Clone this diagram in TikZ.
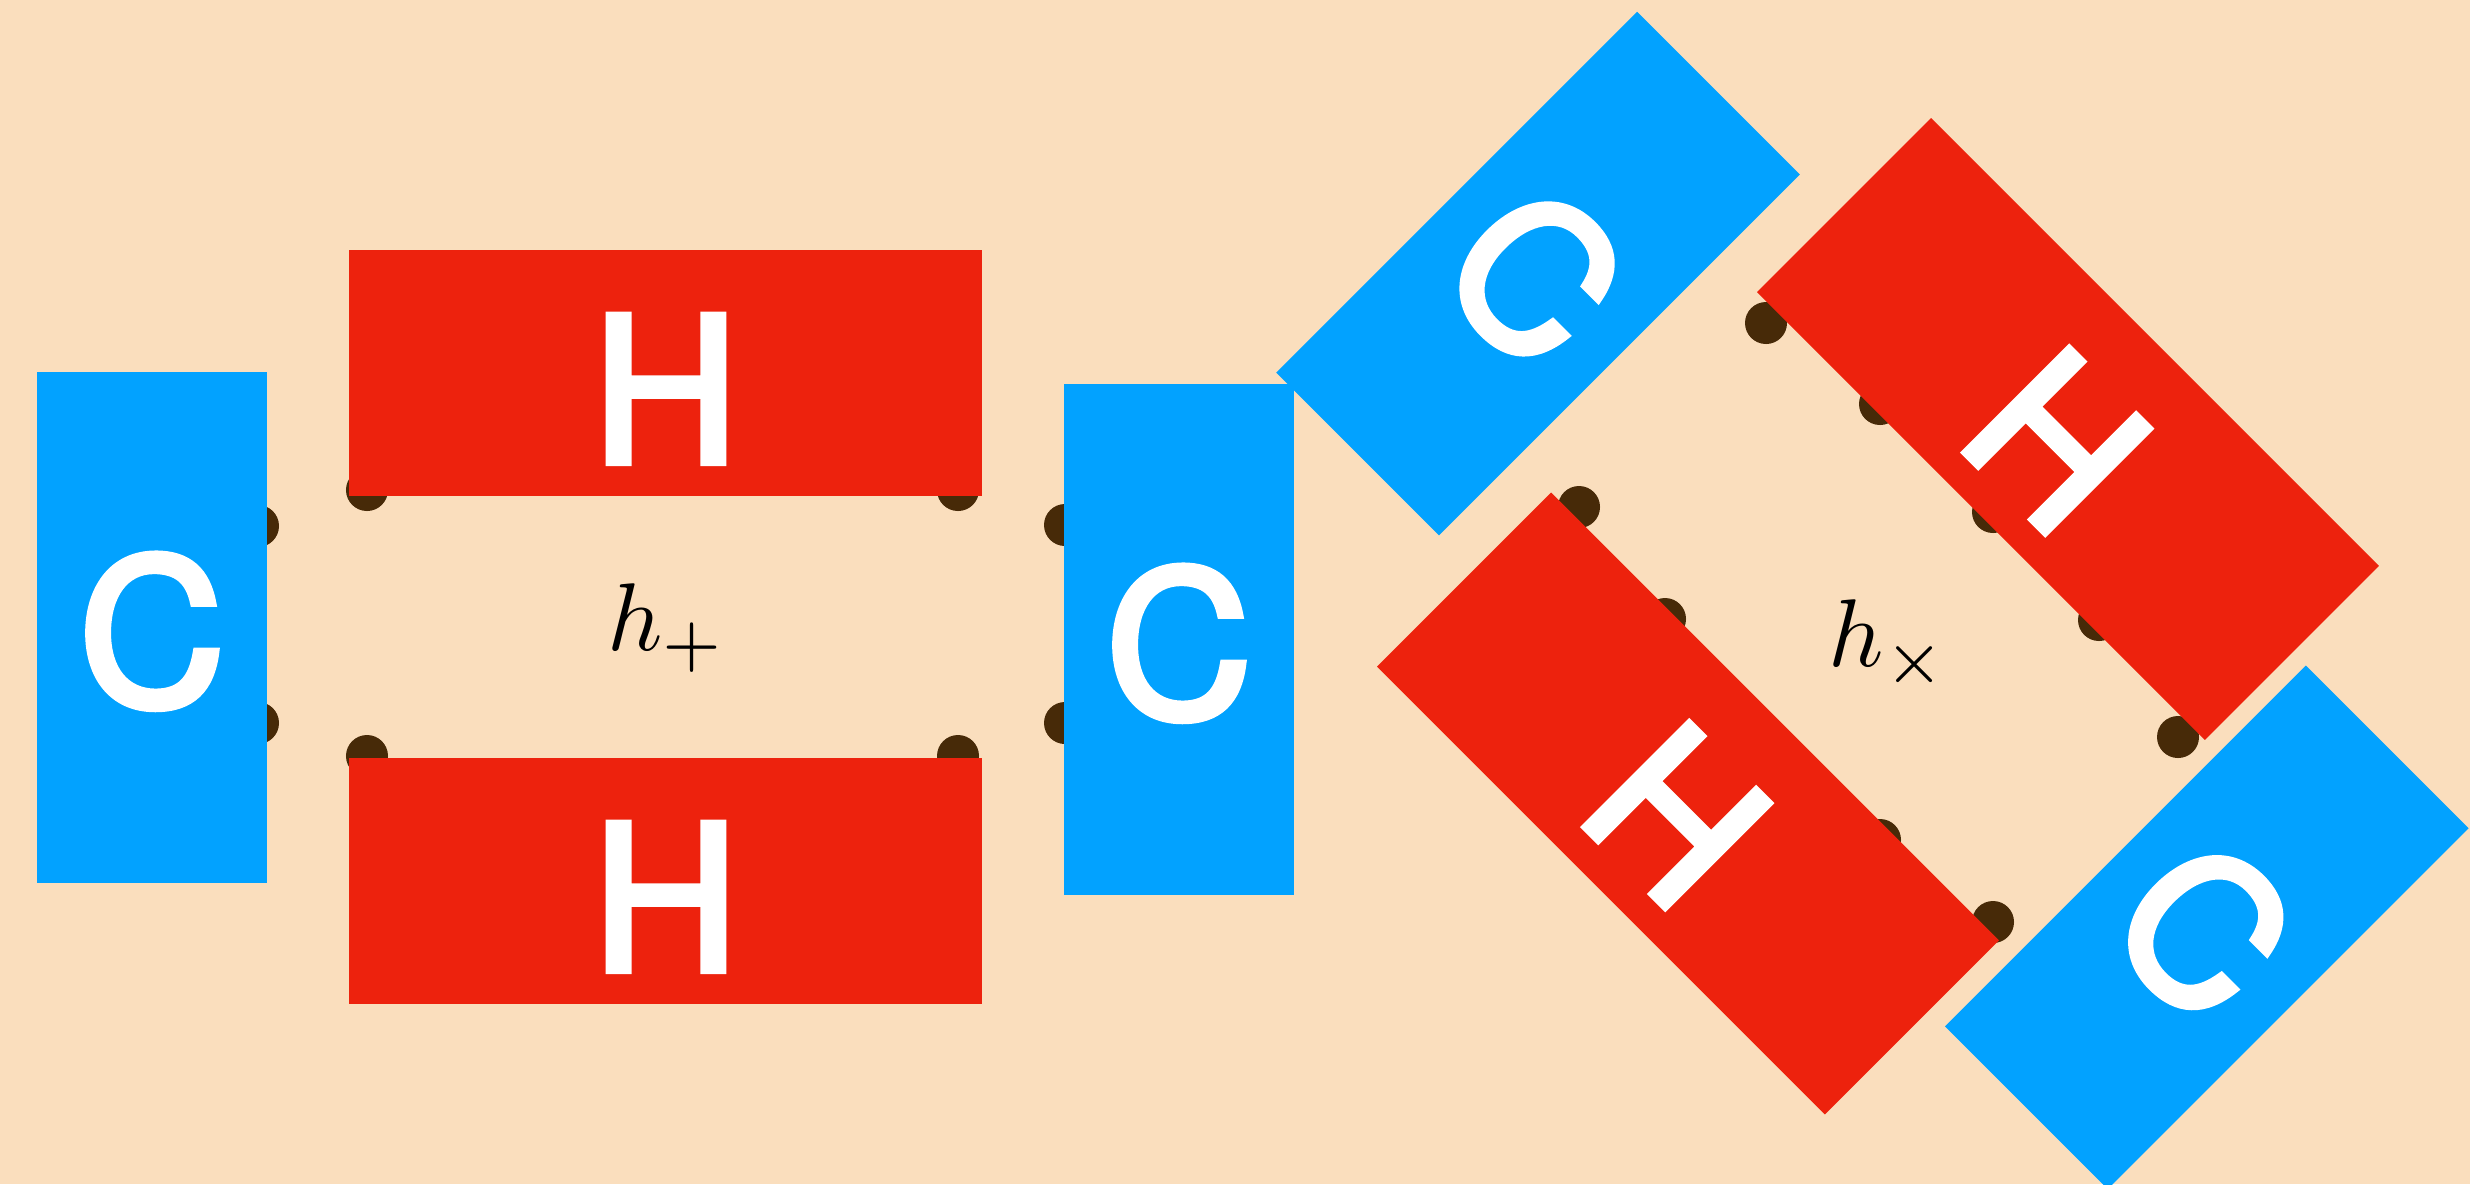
\documentclass[tikz,border=0pt]{standalone}
\usepackage{fontspec}
\newfontfamily\atomfont[FakeBold=3.5]{TeX Gyre Heros}
\definecolor{paper}{RGB}{250,222,189}
\definecolor{carbonblue}{RGB}{2,162,255}
\definecolor{hydrogenred}{RGB}{237,34,13}
\definecolor{dotbrown}{RGB}{71,42,8}
\tikzset{
  atom/.style={inner sep=0pt, text=white, font=\atomfont\fontsize{57.5}{60}\selectfont},
  carbonbox/.style={atom, fill=carbonblue, minimum width=2.30cm, minimum height=5.10cm,
    text height=1.55cm, text depth=0pt},
  hydrogenbox/.style={atom, fill=hydrogenred, minimum width=6.33cm, minimum height=2.46cm,
    text height=1.79cm, text depth=0pt},
  testmass/.style={circle, fill=dotbrown, inner sep=0pt, minimum size=0.42cm},
  strain/.style={inner sep=0pt, anchor=base},
}
\newcommand{\strainlabel}[1]{\scalebox{2.735}{$#1$}}
\begin{document}
\begin{tikzpicture}[x=0.01cm, y=-0.01cm]
  % canvas
  \path[use as bounding box, fill=paper] (0,0) rectangle (2470,1184);

  % plus polarisation: test masses
  \node[testmass] (p1) at (258,526) {};
  \node[testmass] (p2) at (258,723) {};
  \node[testmass] (p3) at (367,490) {};
  \node[testmass] (p4) at (958,490) {};
  \node[testmass] (p5) at (367,756) {};
  \node[testmass] (p6) at (958,756) {};
  \node[testmass] (p7) at (1065,525) {};
  \node[testmass] (p8) at (1065,723) {};

  % cross polarisation: test masses
  \node[testmass] (x1) at (1766,323) {};
  \node[testmass] (x2) at (1880,404) {};
  \node[testmass] (x3) at (1993,512) {};
  \node[testmass] (x4) at (2099,620) {};
  \node[testmass] (x5) at (2178,737) {};
  \node[testmass] (x6) at (1579,507) {};
  \node[testmass] (x7) at (1665,619) {};
  \node[testmass] (x8) at (1880,840) {};
  \node[testmass] (x9) at (1993,922) {};

  % plus polarisation: molecule
  \node[carbonbox]   (cL) at (152,627.5) {C};
  \node[hydrogenbox] (hT) at (665.5,373) {H};
  \node[hydrogenbox] (hB) at (665.5,881) {H};
  \node[carbonbox]   (cR) at (1179,639.5) {C};

  % cross polarisation: molecule turned by 45 degrees
  \node[carbonbox, rotate=-45]   (cUL) at (1538,273.6) {C};
  \node[hydrogenbox, rotate=-45] (hUR) at (2068,429) {H};
  \node[hydrogenbox, rotate=-45] (hLL) at (1688,803.5) {H};
  \node[carbonbox, rotate=-45]   (cLR) at (2206.7,927.3) {C};

  % polarisation labels
  \node[strain] (lplus)  at (667,650)  {\strainlabel{h_+}};
  \node[strain] (lcross) at (1889,666.7) {\strainlabel{h_\times}};
\end{tikzpicture}
\end{document}
